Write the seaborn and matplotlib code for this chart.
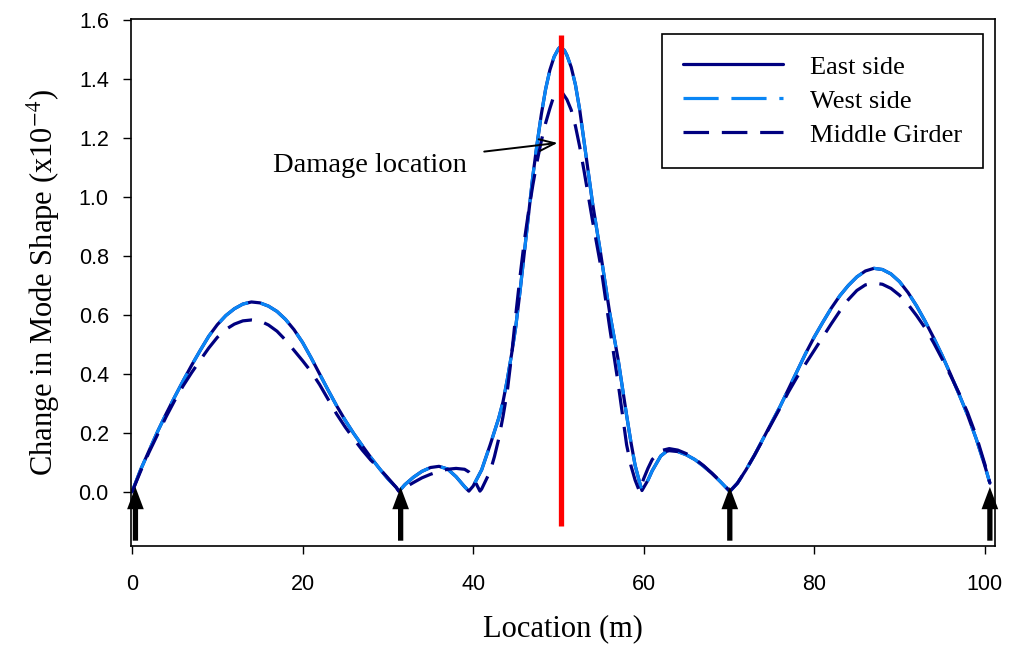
import matplotlib
matplotlib.use("Agg")
import matplotlib.pyplot as plt
import seaborn as sns
import pandas as pd
from matplotlib.lines import Line2D

# ---- data: change in mode shape (x1e-4) along the bridge ----
east_x = [0, 1, 2, 3, 4, 5, 6, 7, 8, 9, 10, 11, 12, 13, 14, 15, 16, 17, 18, 19, 20,
          21, 22, 23, 24, 25, 26, 27, 28, 29, 30, 31, 31.3,
          32, 33, 34, 35, 36, 37, 38, 39, 39.5,
          40, 41, 42, 43, 43.5, 44, 44.5, 45, 45.5, 46, 46.5, 47, 47.5, 48, 48.5, 49, 49.5,
          50, 50.2, 50.7, 51, 51.5, 52, 52.5, 53, 53.5, 54, 54.5, 55, 55.5, 56, 56.5, 57,
          57.5, 58, 58.5, 59, 59.5, 59.8,
          60.5, 61, 62, 62.7, 63, 64, 65, 66, 67, 68, 69, 70, 70.1,
          71, 72, 73, 74, 75, 76, 77, 78, 79, 80, 81, 82, 83, 84, 85, 86, 87, 88, 89,
          90, 91, 92, 93, 94, 95, 96, 97, 98, 99, 100, 100.6]
east_y = [0, 0.075, 0.14, 0.205, 0.265, 0.322, 0.377, 0.43, 0.48, 0.528, 0.567, 0.598,
          0.621, 0.637, 0.644, 0.641, 0.63, 0.612, 0.585, 0.55, 0.507,
          0.455, 0.4, 0.345, 0.292, 0.243, 0.198, 0.157, 0.117, 0.08, 0.045, 0.015, 0.002,
          0.025, 0.05, 0.07, 0.083, 0.087, 0.078, 0.052, 0.018, 0.003,
          0.02, 0.075, 0.16, 0.25, 0.305, 0.38, 0.465, 0.56, 0.68, 0.81, 0.94, 1.07, 1.18,
          1.28, 1.365, 1.43, 1.475,
          1.502, 1.508, 1.497, 1.48, 1.44, 1.38, 1.295, 1.19, 1.085, 0.98, 0.89, 0.8, 0.705,
          0.61, 0.53, 0.45,
          0.355, 0.26, 0.17, 0.09, 0.035, 0.005,
          0.04, 0.072, 0.122, 0.138, 0.14, 0.137, 0.126, 0.11, 0.088, 0.063, 0.035,
          0.005, 0.002,
          0.03, 0.075, 0.125, 0.18, 0.235, 0.29, 0.35, 0.41, 0.47, 0.525, 0.575, 0.623,
          0.665, 0.7, 0.729, 0.749, 0.758, 0.754, 0.739,
          0.713, 0.676, 0.631, 0.579, 0.523, 0.463, 0.398, 0.33, 0.26, 0.18, 0.09, 0.03]

west_x = list(east_x)
west_y = [0, 0.075, 0.14, 0.205, 0.265, 0.322, 0.377, 0.43, 0.48, 0.528, 0.567, 0.598,
          0.621, 0.637, 0.644, 0.641, 0.63, 0.612, 0.585, 0.55, 0.507,
          0.455, 0.4, 0.345, 0.292, 0.243, 0.198, 0.157, 0.117, 0.08, 0.045, 0.015, 0.002,
          0.025, 0.05, 0.07, 0.083, 0.087, 0.078, 0.052, 0.018, 0.003,
          0.02, 0.075, 0.16, 0.25, 0.305, 0.38, 0.465, 0.56, 0.68, 0.81, 0.94, 1.07, 1.18,
          1.28, 1.365, 1.43, 1.475,
          1.502, 1.508, 1.497, 1.48, 1.44, 1.38, 1.295, 1.19, 1.085, 0.98, 0.89, 0.8, 0.705,
          0.61, 0.53, 0.45,
          0.355, 0.26, 0.17, 0.09, 0.035, 0.005,
          0.04, 0.072, 0.122, 0.138, 0.14, 0.137, 0.126, 0.11, 0.088, 0.063, 0.035,
          0.005, 0.002,
          0.03, 0.075, 0.125, 0.18, 0.235, 0.29, 0.35, 0.41, 0.47, 0.525, 0.575, 0.623,
          0.665, 0.7, 0.729, 0.749, 0.758, 0.754, 0.739,
          0.713, 0.676, 0.631, 0.579, 0.523, 0.463, 0.398, 0.33, 0.26, 0.18, 0.09, 0.03]

middle_x = [0, 1, 2, 3, 4, 5, 6, 7, 8, 9, 10, 11, 12, 13, 14, 15, 16, 17, 18, 19, 20,
            21, 22, 23, 24, 25, 26, 27, 28, 29, 30, 31, 31.3,
            32, 33, 34, 35, 36, 37, 38, 39, 39.5, 40, 40.5, 40.8,
            41, 42, 42.5, 43, 43.5, 44, 44.5, 45, 45.5, 46, 46.5, 47, 47.5, 48, 48.5, 49,
            49.5, 49.9, 50.3, 51, 51.5, 52, 52.5, 53, 53.5, 54, 54.5, 55, 55.5, 56, 56.5,
            57, 57.5, 58, 58.5, 59, 59.5,
            60, 60.5, 61, 62, 63, 64, 65, 66, 67, 68, 69, 70, 70.1,
            71, 72, 73, 74, 75, 76, 77, 78, 79, 80, 81, 82, 83, 84, 85, 86, 87, 88, 89,
            90, 91, 92, 93, 94, 95, 96, 97, 98, 99, 100, 100.6]
middle_y = [0, 0.07, 0.135, 0.195, 0.255, 0.31, 0.36, 0.405, 0.447, 0.488, 0.524, 0.551,
            0.569, 0.58, 0.583, 0.58, 0.566, 0.545, 0.515, 0.48, 0.445,
            0.408, 0.364, 0.314, 0.264, 0.22, 0.18, 0.142, 0.108, 0.08, 0.048, 0.015, 0.002,
            0.015, 0.032, 0.048, 0.06, 0.07, 0.077, 0.08, 0.077, 0.068, 0.05, 0.02, 0.003,
            0.01, 0.07, 0.12, 0.18, 0.255, 0.34, 0.46, 0.6, 0.73, 0.85, 0.95, 1.04, 1.12,
            1.19, 1.25, 1.3,
            1.345, 1.363, 1.36, 1.33, 1.295, 1.24, 1.17, 1.09, 1.005, 0.92, 0.84, 0.76,
            0.66, 0.56, 0.465,
            0.37, 0.265, 0.16, 0.09, 0.04, 0.003,
            0.045, 0.08, 0.11, 0.14, 0.147, 0.142, 0.13, 0.112, 0.09, 0.064, 0.036,
            0.006, 0.002,
            0.03, 0.075, 0.125, 0.178, 0.232, 0.285, 0.34, 0.39, 0.435, 0.48, 0.525, 0.57,
            0.613, 0.652, 0.683, 0.702, 0.708, 0.704, 0.69,
            0.667, 0.636, 0.598, 0.556, 0.506, 0.451, 0.394, 0.334, 0.268, 0.19, 0.095, 0.03]

support_x = [0.4, 31.5, 70.1, 100.6]
damage_x = 50.3
series_names = ["East side", "West side", "Middle Girder"]

# ---- style ----
sns.set_theme(style="ticks")
plt.rcParams["font.family"] = ["Liberation Serif", "DejaVu Serif"]
plt.rcParams["mathtext.fontset"] = "stix"
for key in ["text.color", "axes.labelcolor", "xtick.color", "ytick.color",
            "axes.edgecolor"]:
    plt.rcParams[key] = "black"

NAVY = "#000080"
LIGHT = "#0A86F5"

fig = plt.figure(figsize=(10.14, 6.62), dpi=100)
ax = fig.add_axes([131 / 1014, 1 - 546 / 662, (995 - 131) / 1014, (546 - 19) / 662])

frames = {
    "East side": pd.DataFrame({"x": east_x, "y": east_y}),
    "West side": pd.DataFrame({"x": west_x, "y": west_y}),
    "Middle Girder": pd.DataFrame({"x": middle_x, "y": middle_y}),
}
styles = {
    "East side": dict(color=NAVY, linestyle="-"),
    "West side": dict(color=LIGHT, linestyle=(0, (11, 4))),
    "Middle Girder": dict(color=NAVY, linestyle=(0, (8, 4))),
}
LW = 2.3
for name in series_names:
    sns.lineplot(data=frames[name], x="x", y="y", ax=ax, errorbar=None,
                 linewidth=LW, **styles[name])

# damage location marker
ax.plot([damage_x, damage_x], [-0.115, 1.55], color="red", linewidth=3.8, zorder=5,
        solid_capstyle="butt")

# support arrows
for sx in support_x:
    ax.annotate("", xy=(sx, 0.017), xytext=(sx, -0.165),
                arrowprops=dict(width=3.8, headwidth=12, headlength=16,
                                facecolor="black", edgecolor="none", shrink=0),
                zorder=6)

# annotation
ax.annotate("Damage location", xy=(49.9, 1.183), xytext=(39.3, 1.108),
            ha="right", va="center", fontsize=20.5,
            arrowprops=dict(arrowstyle="->,head_length=0.8,head_width=0.3",
                            color="black", lw=1.4, shrinkA=10, shrinkB=0,
                            mutation_scale=14),
            zorder=7)

ax.set_xlim(-0.12, 101.2)
ax.set_ylim(-0.183, 1.603)
ax.set_xticks([0, 20, 40, 60, 80, 100])
yticks = [0.0, 0.2, 0.4, 0.6, 0.8, 1.0, 1.2, 1.4, 1.6]
ax.set_yticks(yticks)
ax.set_yticklabels([f"{v:.1f}" for v in yticks])

for lab in ax.get_xticklabels() + ax.get_yticklabels():
    lab.set_fontfamily("Liberation Sans")
    lab.set_fontsize(15.5)
    lab.set_color("black")
ax.tick_params(axis="x", direction="out", length=6, width=1.0, pad=14,
               top=False, color="black")
ax.tick_params(axis="y", direction="out", length=6, width=1.0, pad=10,
               right=False, color="black")
for sp in ax.spines.values():
    sp.set_visible(True)
    sp.set_color("black")
    sp.set_linewidth(1.2)

ax.set_xlabel("Location (m)", fontsize=22, labelpad=14)
ax.set_ylabel(r"Change in Mode Shape (x10$^{-4}$)", fontsize=22, labelpad=12)

handles = [Line2D([0], [0], linewidth=LW, **styles[n]) for n in series_names]
leg = ax.legend(handles, series_names, loc="upper right",
                bbox_to_anchor=(983 / 1014, 1 - 34 / 662), bbox_transform=fig.transFigure,
                fontsize=19, frameon=True, fancybox=False, edgecolor="black",
                framealpha=1, handlelength=3.8, handletextpad=1.0,
                labelspacing=0.4, borderpad=0.8, borderaxespad=0)
leg.get_frame().set_linewidth(1.2)
for t in leg.get_texts():
    t.set_color("black")

fig.savefig("out.png", dpi=100)
